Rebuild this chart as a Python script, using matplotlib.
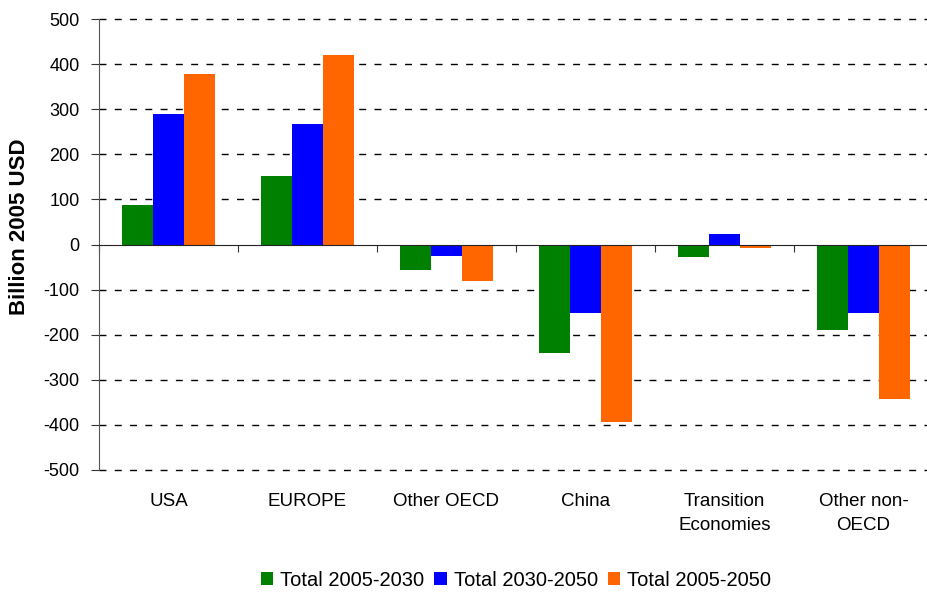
import matplotlib
matplotlib.use("Agg")
import matplotlib.pyplot as plt
import numpy as np

plt.rcParams['font.family'] = ['Liberation Sans', 'DejaVu Sans']

categories = ["USA", "EUROPE", "Other OECD", "China", "Transition\nEconomies", "Other non-\nOECD"]
series_names = ["Total 2005-2030", "Total 2030-2050", "Total 2005-2050"]
total_2005_2030 = [87, 151, -57, -241, -28, -190]
total_2030_2050 = [290, 268, -26, -152, 24, -152]
total_2005_2050 = [378, 420, -81, -394, -8, -342]
colors = ["#008000", "#0000FF", "#FF6600"]
yticks = [-500, -400, -300, -200, -100, 0, 100, 200, 300, 400, 500]

W, H = 927, 597
fig = plt.figure(figsize=(W / 100, H / 100), dpi=100)
x0, x1 = 99, 933
ytop, ybot = 19, 470
ax = fig.add_axes([x0 / W, (H - ybot) / H, (x1 - x0) / W, (ybot - ytop) / H])

n = len(categories)
x = np.arange(n)
bw = 0.225
series = [total_2005_2030, total_2030_2050, total_2005_2050]
for i, (vals, c, name) in enumerate(zip(series, colors, series_names)):
    ax.bar(x + (i - 1) * bw, vals, width=bw, color=c, label=name, zorder=3)

ax.set_xlim(-0.5, n - 0.5)
ax.set_ylim(-500, 500)
ax.set_yticks(yticks)
ax.set_yticklabels([str(v) for v in yticks], fontsize=13)
for v in yticks:
    if v != 0:
        ax.axhline(v, color="black", lw=1.0, ls=(0, (5, 6)), zorder=1, clip_on=False)

ax.spines['top'].set_visible(False)
ax.spines['right'].set_visible(False)
ax.spines['left'].set_color("#555555")
ax.spines['left'].set_zorder(4)
ax.spines['bottom'].set_position(('data', 0))
ax.spines['bottom'].set_color("#222222")
ax.spines['bottom'].set_zorder(4)
ax.set_xticks(np.arange(n + 1) - 0.5)
ax.set_xticklabels([])
ax.tick_params(axis='x', direction='out', length=5, color="#333333")
ax.tick_params(axis='y', direction='out', length=6, color="#333333", pad=8)

for xi, lab in zip(x, categories):
    ax.text(xi, -0.05, lab, transform=ax.get_xaxis_transform(), ha='center', va='top',
            fontsize=13.5, linespacing=1.55)

ax.set_ylabel("Billion 2005 USD", fontsize=16, fontweight='bold')
ax.yaxis.set_label_coords(-(99 - 30) / (x1 - x0), (470 - 227) / (470 - 19))

leg = fig.legend(loc='center', bbox_to_anchor=(516 / W, (H - 580) / H), ncol=3, frameon=False,
                 fontsize=14.5, handlelength=0.6, handleheight=0.6, handletextpad=0.35,
                 columnspacing=0.5)

fig.savefig("out.png", dpi=100)
